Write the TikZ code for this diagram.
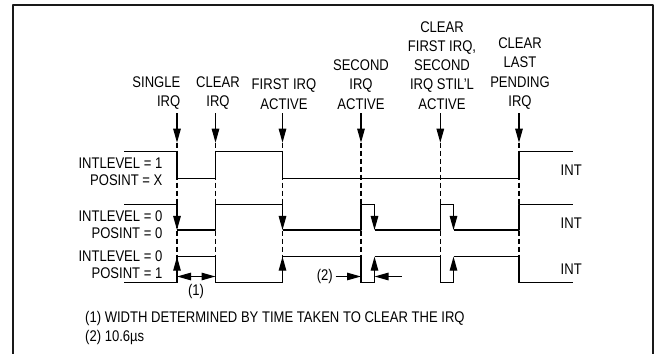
\documentclass[tikz,border=0pt]{standalone}
\usepackage{fontspec}
\setmainfont{Liberation Sans}[FakeStretch=0.845]
\usetikzlibrary{arrows.meta}

\begin{document}
\begin{tikzpicture}[>={Triangle[length=14bp,width=7.5bp]},line join=bevel,
  lbl/.style={inner sep=0pt,font=\fontsize{15.5}{19.3}\selectfont},
  sig/.style={line width=1.2bp},
  evt/.style={line width=1.2bp,->},
  guide/.style={line width=1.2bp,dash pattern=on 5bp off 3bp},]
%%
\useasboundingbox (0bp,0bp) rectangle (654bp,354bp);
\draw [line width=2.2bp,black!90] (12.7bp,0bp) -- (12.7bp,348.7bp) -- (652.8bp,348.7bp) -- (652.8bp,0bp);
%% event labels
\node (lbl_0) at (180.5bp,244.5bp) [lbl,anchor=south east,align=right] {SINGLE\\IRQ};
  \node (lbl_1) at (218bp,244.5bp) [lbl,anchor=south,align=center] {CLEAR\\IRQ};
  \node (lbl_2) at (284bp,244.5bp) [lbl,anchor=south,align=center] {FIRST IRQ\\ACTIVE};
  \node (lbl_3) at (361bp,244.5bp) [lbl,anchor=south,align=center] {SECOND\\IRQ\\ACTIVE};
  \node (lbl_4) at (442bp,244.5bp) [lbl,anchor=south,align=center] {CLEAR\\FIRST IRQ,\\SECOND\\IRQ STIL'L\\ACTIVE};
  \node (lbl_5) at (520bp,244.5bp) [lbl,anchor=south,align=center] {CLEAR\\LAST\\PENDING\\IRQ};
%% row labels
\node (lvl_0) at (162.5bp,185.7bp) [lbl,anchor=base east] {INTLEVEL = 1};
  \node (pos_0) at (162.5bp,168bp) [lbl,anchor=base east] {POSINT = X};
  \node (lvl_1) at (162.5bp,132.3bp) [lbl,anchor=base east] {INTLEVEL = 0};
  \node (pos_1) at (162.5bp,115.7bp) [lbl,anchor=base east] {POSINT = 0};
  \node (lvl_2) at (162.5bp,92.3bp) [lbl,anchor=base east] {INTLEVEL = 0};
  \node (pos_2) at (162.5bp,75.7bp) [lbl,anchor=base east] {POSINT = 1};
  \node (int_0) at (560.5bp,178bp) [lbl,anchor=base west] {INT};
  \node (int_1) at (560.5bp,125.7bp) [lbl,anchor=base west] {INT};
  \node (int_2) at (560.5bp,79.7bp) [lbl,anchor=base west] {INT};
%% event markers
\coordinate (top_0) at (177bp,240.5bp);
  \coordinate (tip_0) at (177bp,211.3bp);
  \coordinate (bot_0) at (177bp,71.3bp);
  \coordinate (top_1) at (215.5bp,240.5bp);
  \coordinate (tip_1) at (215.5bp,211.3bp);
  \coordinate (bot_1) at (215.5bp,71.3bp);
  \coordinate (top_2) at (282.5bp,240.5bp);
  \coordinate (tip_2) at (282.5bp,211.3bp);
  \coordinate (bot_2) at (282.5bp,71.3bp);
  \coordinate (top_3) at (361bp,240.5bp);
  \coordinate (tip_3) at (361bp,211.3bp);
  \coordinate (bot_3) at (361bp,71.3bp);
  \coordinate (top_4) at (440.3bp,240.5bp);
  \coordinate (tip_4) at (440.3bp,211.3bp);
  \coordinate (bot_4) at (440.3bp,71.3bp);
  \coordinate (top_5) at (519bp,240.5bp);
  \coordinate (tip_5) at (519bp,211.3bp);
  \coordinate (bot_5) at (519bp,71.3bp);
  \draw [evt] (top_0) -- (tip_0);
  \draw [evt] (top_1) -- (tip_1);
  \draw [evt] (top_2) -- (tip_2);
  \draw [evt] (top_3) -- (tip_3);
  \draw [evt] (top_4) -- (tip_4);
  \draw [evt] (top_5) -- (tip_5);
  \draw [guide] (tip_0) -- (bot_0);
  \draw [guide] (tip_1) -- (bot_1);
  \draw [guide] (tip_2) -- (bot_2);
  \draw [guide] (tip_3) -- (bot_3);
  \draw [guide] (tip_4) -- (bot_4);
  \draw [guide] (tip_5) -- (bot_5);
%% INTLEVEL = 1, POSINT = X
\draw [sig] (124bp,202.3bp) -| (177bp,175.7bp) -| (215.5bp,202.3bp) -| (282.5bp,175.7bp) -| (519bp,202.3bp) -- (572.5bp,202.3bp);
%% INTLEVEL = 0, POSINT = 0
\draw [sig] (124bp,149.7bp) -- (177bp,149.7bp) (177bp,124bp) -| (215.5bp,149.7bp) -- (282.5bp,149.7bp)
  (282.5bp,124bp) -| (361bp,149.7bp) -- (374.5bp,149.7bp) (374.5bp,124bp) -| (440.3bp,149.7bp) -- (453.5bp,149.7bp)
  (453.5bp,124bp) -| (519bp,149.7bp) -- (572.5bp,149.7bp);
  \draw [evt] (177bp,149.7bp) -- (177bp,124bp);
  \draw [evt] (282.5bp,149.7bp) -- (282.5bp,124bp);
  \draw [evt] (374.5bp,149.7bp) -- (374.5bp,124bp);
  \draw [evt] (453.5bp,149.7bp) -- (453.5bp,124bp);
%% INTLEVEL = 0, POSINT = 1
\draw [sig] (124bp,71.3bp) -- (177bp,71.3bp) (177bp,97.3bp) -| (215.5bp,71.3bp) -- (282.5bp,71.3bp)
  (282.5bp,97.3bp) -| (361bp,71.3bp) -- (374.5bp,71.3bp) (374.5bp,97.3bp) -| (440.3bp,71.3bp) -- (453.5bp,71.3bp)
  (453.5bp,97.3bp) -| (519bp,71.3bp) -- (572.5bp,71.3bp);
  \draw [evt] (177bp,71.3bp) -- (177bp,97.3bp);
  \draw [evt] (282.5bp,71.3bp) -- (282.5bp,97.3bp);
  \draw [evt] (374.5bp,71.3bp) -- (374.5bp,97.3bp);
  \draw [evt] (453.5bp,71.3bp) -- (453.5bp,97.3bp);
%% widths
\coordinate (w1_a) at (177bp,77.5bp);
  \coordinate (w1_b) at (215.5bp,77.5bp);
  \coordinate (w2_a) at (335.5bp,77.5bp);
  \coordinate (w2_b) at (361bp,77.5bp);
  \coordinate (w2_c) at (401.5bp,77.5bp);
  \coordinate (w2_d) at (374.5bp,77.5bp);
  \draw [evt,<->] (w1_a) -- (w1_b);
  \draw [evt] (w2_a) -- (w2_b);
  \draw [evt] (w2_c) -- (w2_d);
  \node (mark_1) at (196bp,58bp) [lbl,anchor=base] {(1)};
  \node (mark_2) at (333bp,73.7bp) [lbl,anchor=base east] {(2)};
%% notes
\node (note_1) at (85bp,31.5bp) [lbl,anchor=base west] {(1) WIDTH DETERMINED BY TIME TAKEN TO CLEAR THE IRQ};
  \node (note_2) at (85bp,13bp) [lbl,anchor=base west] {(2) 10.6µs};
%
\end{tikzpicture}
\end{document}
